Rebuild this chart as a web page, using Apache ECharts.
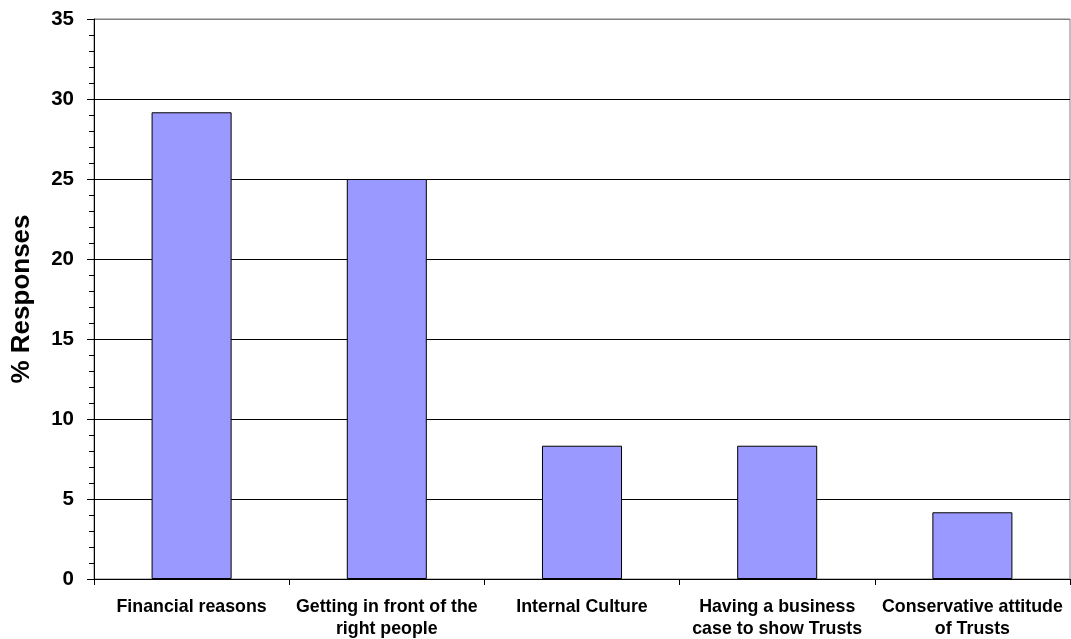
<!DOCTYPE html>
<html>
<head>
<meta charset="utf-8">
<script src="https://cdn.jsdelivr.net/npm/echarts@6/dist/echarts.min.js"></script>
<style>
  html, body { margin: 0; padding: 0; background: #fff; }
  #chart { width: 1071px; height: 639px; }
</style>
</head>
<body>
<div id="chart"></div>
<script>
var categories = [
    'Financial reasons',
    'Getting in front of the\nright people',
    'Internal Culture',
    'Having a business\ncase to show Trusts',
    'Conservative attitude\nof Trusts'
];
var responses = [29.17, 25, 8.33, 8.33, 4.17];

var chart = echarts.init(document.getElementById('chart'));

var option = {
    animation: false,
    textStyle: {fontFamily: 'Liberation Sans, Arial, sans-serif'},
    grid: {
        left: 94,
        right: 1,
        top: 19,
        bottom: 60,
        outerBoundsMode: 'none',
        show: true,
        borderColor: '#808080',
        borderWidth: 1
    },
    xAxis: {
        type: 'category',
        data: categories,
        axisLine: {lineStyle: {color: '#000', width: 1}},
        axisTick: {show: true, length: 6, lineStyle: {color: '#000'}},
        axisLabel: {
            color: '#000',
            fontWeight: 'bold',
            fontSize: 17.8,
            lineHeight: 22,
            margin: 17,
            interval: 0
        }
    },
    yAxis: {
        type: 'value',
        min: 0,
        max: 35,
        interval: 5,
        name: '% Responses',
        nameLocation: 'middle',
        nameGap: 59,
        nameTextStyle: {color: '#000', fontWeight: 'bold', fontSize: 26},
        axisLine: {show: true, lineStyle: {color: '#000', width: 1}},
        axisTick: {show: true, length: 7, lineStyle: {color: '#000'}},
        minorTick: {show: true, splitNumber: 5, length: 5, lineStyle: {color: '#000'}},
        axisLabel: {color: '#000', fontWeight: 'bold', fontSize: 20.5, margin: 20},
        splitLine: {
            show: true,
            lineStyle: {
                color: ['#000', '#000', '#000', '#000', '#000', '#000', '#000', '#808080'],
                width: 1
            }
        }
    },
    series: [{
        type: 'bar',
        data: responses,
        barCategoryGap: '59%',
        itemStyle: {color: '#9999FF', borderColor: '#000', borderWidth: 1}
    }]
};

chart.setOption(option);
</script>
</body>
</html>
